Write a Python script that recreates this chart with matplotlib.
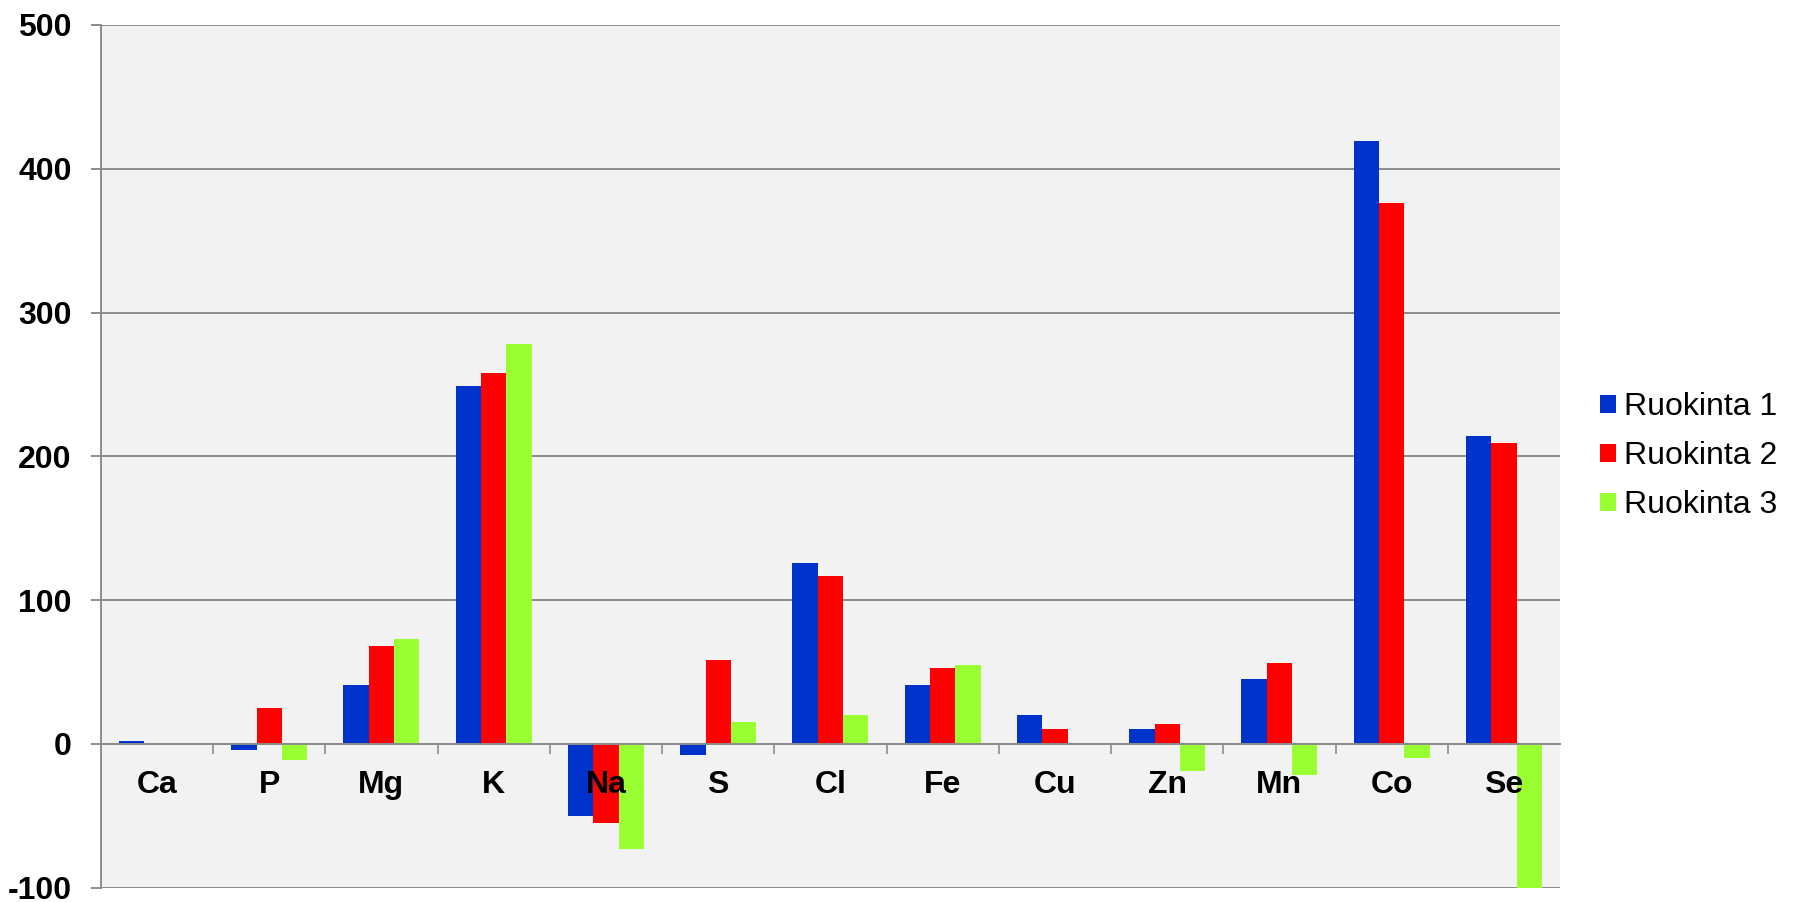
import numpy as np
import matplotlib
matplotlib.use("Agg")
import matplotlib.pyplot as plt

plt.rcParams['font.family'] = ['Liberation Sans', 'DejaVu Sans']
plt.rcParams['axes.unicode_minus'] = False

elements = ["Ca", "P", "Mg", "K", "Na", "S", "Cl", "Fe", "Cu", "Zn", "Mn", "Co", "Se"]
ruokinta1 = [2, -4, 41, 249, -50, -8, 126, 41, 20, 10, 45, 419, 214]
ruokinta2 = [0, 25, 68, 258, -55, 58, 117, 53, 10, 14, 56, 376, 209]
ruokinta3 = [0, -11, 73, 278, -73, 15, 20, 55, 0, -19, -22, -10, -100]
series_names = ["Ruokinta 1", "Ruokinta 2", "Ruokinta 3"]
colors = ["#0033CC", "#FF0000", "#99FF33"]

fig = plt.figure(figsize=(17.96, 9.02), dpi=100)
ax = fig.add_axes([0.0561, 0.016, 0.8125, 0.9563])
ax.set_facecolor("#F2F2F2")

x = np.arange(len(elements))
w = 0.225
for i, (vals, name, c) in enumerate(zip([ruokinta1, ruokinta2, ruokinta3], series_names, colors)):
    ax.bar(x + (i - 1) * w, vals, w, color=c, label=name, zorder=2)

ax.set_xlim(-0.5, len(elements) - 0.5)
ax.set_ylim(-100, 500)
ax.set_yticks(range(-100, 501, 100))
ax.yaxis.grid(True, color="#8C8C8C", linewidth=1.4, zorder=1)
ax.set_axisbelow(True)

# x axis crosses at zero
ax.spines['bottom'].set_position(('data', 0))
ax.spines['bottom'].set_color("#8C8C8C")
ax.spines['bottom'].set_linewidth(1.4)
ax.spines['bottom'].set_zorder(3)
ax.spines['left'].set_color("#8C8C8C")
ax.spines['left'].set_linewidth(1.4)
ax.spines['top'].set_visible(False)
ax.spines['right'].set_visible(False)

ax.set_xticks(np.arange(0.5, len(elements) - 0.5, 1))
ax.set_xticklabels([])
ax.tick_params(axis='x', length=7.5, width=1.2, color="#8C8C8C", direction='out')
ax.tick_params(axis='y', length=7, width=1.4, color="#8C8C8C", pad=14, labelsize=23)
for lab in ax.get_yticklabels():
    lab.set_fontweight('bold')

# category names sit on top of the bars
for xi, name in zip(x, elements):
    ax.text(xi, -29, name, ha='center', va='center', fontsize=23,
            fontweight='bold', zorder=5)

ax.legend(loc='center left', bbox_to_anchor=(1.008, 0.5), frameon=False, fontsize=23,
          handlelength=0.5, handleheight=0.5, handletextpad=0.25, labelspacing=0.6)

fig.savefig("out.png", dpi=100)
